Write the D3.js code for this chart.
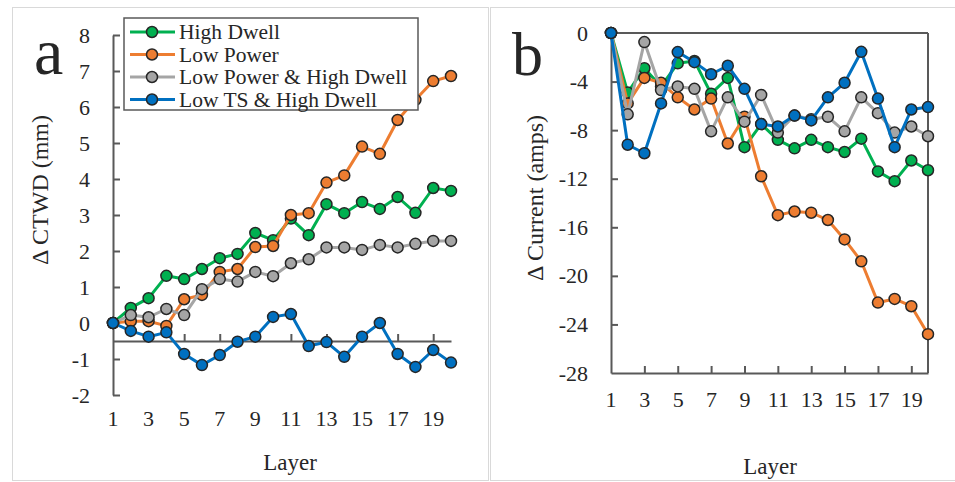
<!DOCTYPE html>
<html>
<head>
<meta charset="utf-8">
<script src="https://cdn.jsdelivr.net/npm/d3@7"></script>
<style>
  body { margin: 0; background: #fff; }
  text { font-family: "Liberation Serif", "Times New Roman", serif; fill: #262626; }
</style>
</head>
<body>
<div id="container-div"></div>
<script>
// layers 1..20
var layers = d3.range(1, 21);
var xTicks = [1, 3, 5, 7, 9, 11, 13, 15, 17, 19];
var seriesNames = ["High Dwell", "Low Power", "Low Power & High Dwell", "Low TS & High Dwell"];
var seriesColors = ["#00b050", "#ed7d31", "#a5a5a5", "#0070c0"];

// panel a: change in CTWD (mm)
var ctwdHighDwell = [0, 0.42, 0.69, 1.31, 1.22, 1.5, 1.8, 1.92, 2.5, 2.3, 2.9, 2.44, 3.3, 3.05, 3.36, 3.17, 3.5, 3.06, 3.75, 3.67];
var ctwdLowPower = [0, 0.05, 0.05, -0.08, 0.66, 0.78, 1.42, 1.5, 2.11, 2.14, 3.0, 3.05, 3.9, 4.1, 4.9, 4.7, 5.64, 6.2, 6.72, 6.86];
var ctwdLowPowerHD = [0, 0.22, 0.16, 0.39, 0.22, 0.94, 1.22, 1.15, 1.42, 1.3, 1.66, 1.77, 2.1, 2.1, 2.03, 2.17, 2.1, 2.2, 2.28, 2.28];
var ctwdLowTS = [0, -0.22, -0.38, -0.26, -0.86, -1.17, -0.89, -0.52, -0.38, 0.17, 0.25, -0.64, -0.53, -0.94, -0.38, 0.0, -0.86, -1.22, -0.75, -1.1];
var ctwdTicks = d3.range(-2, 9);

// panel b: change in current (amps)
var curHighDwell = [0, -4.9, -2.9, -4.4, -2.5, -2.3, -5.0, -3.7, -9.4, -7.5, -8.8, -9.5, -8.8, -9.4, -9.8, -8.7, -11.4, -12.2, -10.5, -11.3];
var curLowPower = [0, -5.8, -3.7, -4.1, -5.3, -6.3, -5.4, -9.1, -6.9, -11.8, -15.0, -14.7, -14.8, -15.4, -17.0, -18.8, -22.2, -21.9, -22.5, -24.8];
var curLowPowerHD = [0, -6.7, -0.75, -4.7, -4.4, -4.6, -8.1, -5.3, -7.3, -5.1, -8.2, -6.8, -7.1, -6.9, -8.1, -5.3, -6.6, -8.2, -7.7, -8.5];
var curLowTS = [0, -9.2, -9.9, -5.8, -1.57, -2.4, -3.4, -2.7, -4.6, -7.5, -7.7, -6.8, -7.2, -5.3, -4.1, -1.55, -5.4, -9.4, -6.3, -6.1];
var curTicks = [0, -4, -8, -12, -16, -20, -24, -28];

var axisColor = "#595959";

let viz = d3.select("#container-div").append("svg")
    .attr("width", 955)
    .attr("height", 482)
    .attr("id", "viz");

// panel frames
viz.append("rect").attr("x", 12.5).attr("y", 7.5).attr("width", 476).attr("height", 473)
    .attr("fill", "none").attr("stroke", "#d9d9d9").attr("stroke-width", 1);
viz.append("rect").attr("x", 490.5).attr("y", 7.5).attr("width", 470).attr("height", 473)
    .attr("fill", "none").attr("stroke", "#d9d9d9").attr("stroke-width", 1);

// plain hyphen like the original labels
function hyphenLabel(d) { return String(d); }

function drawSeries(g, x, y, data) {
    var line = d3.line().x(function (d, i) { return x(layers[i]); }).y(function (d) { return y(d); });
    var groups = g.selectAll("g.series").data(data).enter()
        .append("g").attr("class", "series");
    groups.append("path")
        .attr("d", function (d) { return line(d); })
        .attr("fill", "none")
        .attr("stroke", function (d, i) { return seriesColors[i]; })
        .attr("stroke-width", 3)
        .attr("stroke-linejoin", "round");
    groups.each(function (d, i) {
        d3.select(this).selectAll("circle").data(d).enter().append("circle")
            .attr("cx", function (v, j) { return x(layers[j]); })
            .attr("cy", function (v) { return y(v); })
            .attr("r", 5.5)
            .attr("fill", seriesColors[i])
            .attr("stroke", "#262626")
            .attr("stroke-width", 1.5);
    });
}

function styleAxis(ax, fontSize) {
    ax.selectAll(".domain").attr("stroke", axisColor).attr("stroke-width", 2);
    ax.selectAll(".tick line").attr("stroke", axisColor).attr("stroke-width", 2);
    ax.selectAll(".tick text").attr("font-size", fontSize)
        .attr("font-family", "Liberation Serif, Times New Roman, serif").attr("fill", "#262626");
}

// ---------- panel a ----------
var xa = d3.scaleLinear().domain([1, 20]).range([113, 451]);
var ya = d3.scaleLinear().domain([-2, 8]).range([395, 35]);

var yAxisA = viz.append("g").attr("transform", "translate(113,0)")
    .call(d3.axisLeft(ya).tickValues(ctwdTicks).tickFormat(hyphenLabel)
        .tickSizeInner(-7).tickSizeOuter(0).tickPadding(23));
styleAxis(yAxisA, 22);

// x axis crosses at -0.5, labels sit at the bottom
var xAxisA = viz.append("g").attr("transform", "translate(0," + ya(-0.5) + ")")
    .call(d3.axisBottom(xa).tickValues(xTicks.slice(1)).tickFormat("")
        .tickSizeInner(-7).tickSizeOuter(0));
styleAxis(xAxisA, 22);
viz.append("g").selectAll("text").data(xTicks).enter().append("text")
    .attr("x", function (d) { return xa(d); })
    .attr("y", ya(-2) + 15)
    .attr("text-anchor", "middle").attr("dominant-baseline", "hanging")
    .attr("font-size", 22).text(function (d) { return d; });

drawSeries(viz.append("g"), xa, ya, [ctwdHighDwell, ctwdLowPower, ctwdLowPowerHD, ctwdLowTS]);

viz.append("text").attr("x", 34).attr("y", 74).attr("font-size", 66).text("a");
viz.append("text").attr("transform", "translate(40,190) rotate(-90)")
    .attr("text-anchor", "middle").attr("dominant-baseline", "central")
    .attr("font-size", 24).text("\u0394 CTWD (mm)");
viz.append("text").attr("x", 290).attr("y", 470).attr("text-anchor", "middle")
    .attr("font-size", 23).text("Layer");

// legend
var legend = viz.append("g");
legend.append("rect").attr("x", 124).attr("y", 18).attr("width", 294).attr("height", 92)
    .attr("fill", "#fff").attr("stroke", axisColor).attr("stroke-width", 1.5);
var items = legend.selectAll("g.item").data(seriesNames).enter().append("g")
    .attr("transform", function (d, i) { return "translate(0," + (32 + i * 22.5) + ")"; });
items.append("line").attr("x1", 130).attr("x2", 175).attr("y1", 0).attr("y2", 0)
    .attr("stroke", function (d, i) { return seriesColors[i]; }).attr("stroke-width", 3);
items.append("circle").attr("cx", 152).attr("cy", 0).attr("r", 5.5)
    .attr("fill", function (d, i) { return seriesColors[i]; })
    .attr("stroke", "#262626").attr("stroke-width", 1.5);
items.append("text").attr("x", 179).attr("y", 0).attr("dominant-baseline", "central")
    .attr("font-size", 21.5).text(function (d) { return d; });

// ---------- panel b ----------
var xb = d3.scaleLinear().domain([1, 20]).range([611, 928]);
var yb = d3.scaleLinear().domain([-28, 0]).range([373, 33]);

// plot box (top edge is the x axis at 0)
viz.append("line").attr("x1", xb(1)).attr("x2", xb(20)).attr("y1", yb(0)).attr("y2", yb(0))
    .attr("stroke", axisColor).attr("stroke-width", 2);
viz.append("line").attr("x1", xb(20)).attr("x2", xb(20)).attr("y1", yb(0)).attr("y2", yb(-28))
    .attr("stroke", axisColor).attr("stroke-width", 2);

var yAxisB = viz.append("g").attr("transform", "translate(611,0)")
    .call(d3.axisLeft(yb).tickValues(curTicks).tickFormat(hyphenLabel)
        .tickSizeInner(-7).tickSizeOuter(0).tickPadding(23));
styleAxis(yAxisB, 22);
yAxisB.selectAll(".tick line").filter(function (d) { return d === 0 || d === -28; }).remove();

var xAxisB = viz.append("g").attr("transform", "translate(0," + yb(-28) + ")")
    .call(d3.axisBottom(xb).tickValues(xTicks.slice(1))
        .tickSizeInner(-7).tickSizeOuter(0).tickPadding(18));
styleAxis(xAxisB, 22);
xAxisB.append("text").attr("x", xb(1)).attr("y", 18).attr("dy", "0.71em")
    .attr("text-anchor", "middle").attr("font-size", 22).text("1");

drawSeries(viz.append("g"), xb, yb, [curHighDwell, curLowPower, curLowPowerHD, curLowTS]);

viz.append("text").attr("x", 512).attr("y", 75).attr("font-size", 62).text("b");
viz.append("text").attr("transform", "translate(535,198) rotate(-90)")
    .attr("text-anchor", "middle").attr("dominant-baseline", "central")
    .attr("font-size", 24).text("\u0394 Current (amps)");
viz.append("text").attr("x", 770).attr("y", 474).attr("text-anchor", "middle")
    .attr("font-size", 23).text("Layer");
</script>
</body>
</html>
